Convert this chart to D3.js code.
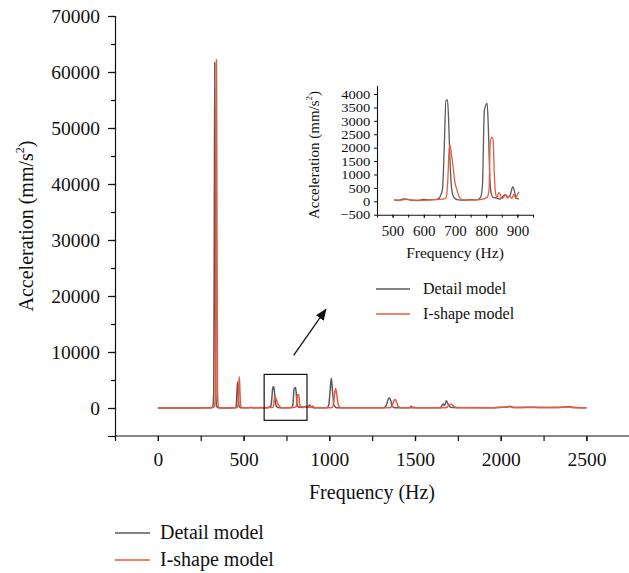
<!DOCTYPE html>
<html><head><meta charset="utf-8">
<script src="https://cdn.jsdelivr.net/npm/d3@7/dist/d3.min.js"></script>
<style>
body{margin:0;background:#fff;}
text{font-family:"Liberation Serif","Times New Roman",serif;fill:#111;}
</style></head>
<body>
<svg id="chart" width="629" height="573"></svg>
<script>
// ---------- DATA ----------
// Main spectrum, low-frequency part (Hz, mm/s^2)
const detailLow = [[0,0],[200,10],[310,40],[321,300],[326,3000],[329,30000],[332,61700],[335,30000],[338,3000],[343,300],[352,60],[400,20],[450,30],[457,400],[461,2500],[465,4700],[469,2500],[473,400],[482,40],[500,30]];
const ishapeLow  = [[0,0],[200,10],[318,40],[331,300],[336,3000],[339,30000],[342,62200],[345,30000],[348,3000],[353,300],[362,60],[400,20],[460,30],[467,400],[471,3000],[475,5600],[479,3000],[483,400],[492,40],[500,30]];
// Zoomed range 505-905 Hz (also shown in the inset)
const detailZoom = [[505,50],[520,40],[535,90],[545,80],[560,40],[580,30],[600,70],[615,50],[630,60],[645,80],[655,250],[660,460],[665,1800],[671,3760],[676,3780],[680,2900],[684,1500],[689,500],[696,150],[710,50],[730,40],[750,60],[770,50],[782,150],[788,600],[794,3380],[803,3650],[807,2700],[811,1100],[815,350],[822,150],[835,120],[845,80],[855,200],[862,250],[870,150],[878,260],[885,550],[890,400],[895,150],[900,100],[905,90]];
const ishapeZoom = [[505,40],[520,30],[535,60],[550,70],[565,40],[590,30],[610,40],[630,60],[650,70],[665,90],[672,150],[677,800],[681,1900],[684,2100],[688,1800],[694,1270],[700,700],[707,400],[713,180],[722,60],[740,40],[760,50],[790,80],[803,150],[809,400],[813,2200],[818,2390],[822,2300],[826,1000],[830,300],[835,150],[840,320],[845,250],[850,100],[856,150],[862,250],[868,120],[875,200],[882,100],[888,250],[895,100],[900,250],[905,350]];
// Main spectrum, high-frequency part
const detailHigh = [[910,60],[985,60],[996,400],[1004,2800],[1012,5300],[1019,3000],[1027,500],[1042,60],[1318,50],[1333,500],[1344,1600],[1352,1800],[1359,1300],[1367,400],[1380,60],[1468,50],[1478,300],[1488,60],[1648,50],[1658,500],[1665,700],[1672,450],[1683,1300],[1691,800],[1700,300],[1712,80],[1950,60],[1990,120],[2030,150],[2056,300],[2070,80],[2120,100],[2180,150],[2230,80],[2300,100],[2360,150],[2396,250],[2420,80],[2500,50]];
const ishapeHigh = [[910,60],[1012,60],[1023,500],[1030,2200],[1037,3500],[1044,2400],[1052,600],[1067,60],[1353,60],[1367,400],[1377,1300],[1385,1500],[1393,1000],[1402,300],[1415,60],[1488,60],[1496,200],[1505,60],[1678,60],[1692,300],[1702,650],[1710,700],[1720,500],[1731,200],[1742,60],[1950,60],[2000,100],[2060,220],[2080,80],[2150,100],[2230,80],[2300,90],[2360,120],[2400,200],[2430,80],[2500,50]];

const xTicksMain = [0,500,1000,1500,2000,2500];
const yTicksMain = [0,10000,20000,30000,40000,50000,60000,70000];
const xTicksInset = [500,600,700,800,900];
const yTicksInset = [-500,0,500,1000,1500,2000,2500,3000,3500,4000];
const seriesNames = ["Detail model","I-shape model"];
const colors = ["#5b5b5b","#ec5a3c"];
const zoomBox = {x0:620, x1:870, y0:-2200, y1:6000};
const arrowFromTo = [[792,9400],[980,17600]];

// ---------- BUILD ----------
const detailMain = detailLow.concat(detailZoom, detailHigh);
const ishapeMain = ishapeLow.concat(ishapeZoom, ishapeHigh);

const svg = d3.select("#chart");
const defs = svg.append("defs");
defs.append("marker").attr("id","ah").attr("viewBox","0 0 10 10").attr("refX",9).attr("refY",5)
  .attr("markerWidth",9).attr("markerHeight",9).attr("orient","auto-start-reverse")
  .append("path").attr("d","M0,1 L10,5 L0,9 Z").attr("fill","#111");

// main scales
const x = d3.scaleLinear().domain([-250,2750]).range([115,629.3]);
const y = d3.scaleLinear().domain([-5000,70000]).range([436,16]);

const fs = 19.5;
// y axis
const gy = svg.append("g").attr("transform","translate(115,0)");
gy.call(d3.axisLeft(y).tickValues(d3.range(-5000,70001,5000)).tickSize(4).tickFormat(""));
gy.call(g=>g.select(".domain").remove());
const gy2 = svg.append("g").attr("transform","translate(115,0)")
  .call(d3.axisLeft(y).tickValues(yTicksMain).tickSize(7).tickPadding(8).tickFormat(d3.format("d")));
[gy,gy2].forEach(g=>{g.selectAll("line").attr("stroke","#111").attr("stroke-width",1.2);});
gy2.select(".domain").attr("stroke","#111").attr("stroke-width",1.2);
gy2.selectAll("text").attr("font-size",fs).attr("dy","0.34em");

// x axis
const gx = svg.append("g").attr("transform","translate(0,436)");
gx.call(d3.axisBottom(x).tickValues(d3.range(-250,2751,250)).tickSize(5).tickFormat(""));
gx.call(g=>g.select(".domain").remove());
const gx2 = svg.append("g").attr("transform","translate(0,436)")
  .call(d3.axisBottom(x).tickValues(xTicksMain).tickSize(5).tickPadding(11).tickFormat(d3.format("d")));
[gx,gx2].forEach(g=>{g.selectAll("line").attr("stroke","#111").attr("stroke-width",1.2);});
gx2.select(".domain").attr("stroke","#111").attr("stroke-width",1.2).attr("d","M115.5,0H629");
gx2.selectAll("text").attr("font-size",fs).attr("dy","0.71em");

// axis titles
svg.append("text").attr("x",372).attr("y",499).attr("text-anchor","middle").attr("font-size",20).text("Frequency (Hz)");
const yl = svg.append("text").attr("transform","translate(33,226) rotate(-90)").attr("text-anchor","middle").attr("font-size",20);
yl.append("tspan").text("Acceleration (mm/s");
yl.append("tspan").attr("font-size",12).attr("dy",-9).text("2");
yl.append("tspan").attr("dy",9).text(")");

// lines
const line = d3.line().x(d=>x(d[0])).y(d=>y(d[1])).curve(d3.curveMonotoneX);
svg.append("path").datum(detailMain).attr("d",line).attr("fill","none").attr("stroke",colors[0]).attr("stroke-width",1.5);
svg.append("path").datum(ishapeMain).attr("d",line).attr("fill","none").attr("stroke",colors[1]).attr("stroke-width",1.5);

// zoom box & arrow
svg.append("rect").attr("x",x(zoomBox.x0)).attr("y",y(zoomBox.y1))
  .attr("width",x(zoomBox.x1)-x(zoomBox.x0)).attr("height",y(zoomBox.y0)-y(zoomBox.y1))
  .attr("fill","none").attr("stroke","#111").attr("stroke-width",1.2);
svg.append("line").attr("x1",x(arrowFromTo[0][0])).attr("y1",y(arrowFromTo[0][1]))
  .attr("x2",x(arrowFromTo[1][0])).attr("y2",y(arrowFromTo[1][1]))
  .attr("stroke","#111").attr("stroke-width",1.3).attr("marker-end","url(#ah)");

// main legend
seriesNames.forEach((n,i)=>{
  const yy = 533 + i*27;
  svg.append("line").attr("x1",115).attr("x2",150).attr("y1",yy).attr("y2",yy).attr("stroke",colors[i]).attr("stroke-width",1.4);
  svg.append("text").attr("x",160).attr("y",yy+6).attr("font-size",20).text(n);
});

// ---------- INSET ----------
const xi = d3.scaleLinear().domain([450,950]).range([377,533]);
const yi = d3.scaleLinear().domain([-500,4300]).range([214.7,86]);
const fsi = 13;
const giy = svg.append("g").attr("transform","translate(377,0)")
  .call(d3.axisLeft(yi).tickValues(yTicksInset).tickSize(3).tickPadding(3).tickFormat(d=>d<0?"\u2212"+Math.abs(d):d));
giy.select(".domain").attr("d","M0.5,86V214.7").attr("stroke","#111").attr("stroke-width",1.1);
giy.selectAll("line").attr("stroke","#111");
giy.selectAll("text").attr("font-size",fsi).attr("dy","0.33em").attr("transform","scale(1.12,1)");
const gix = svg.append("g").attr("transform","translate(0,214.7)");
gix.call(d3.axisBottom(xi).tickValues(d3.range(450,951,50)).tickSize(3).tickFormat(""));
gix.call(g=>g.select(".domain").remove());
gix.selectAll("line").attr("stroke","#111");
const gix2 = svg.append("g").attr("transform","translate(0,214.7)")
  .call(d3.axisBottom(xi).tickValues(xTicksInset).tickSize(3).tickPadding(8).tickFormat(d3.format("d")));
gix2.select(".domain").attr("d","M377,0.5H533").attr("stroke","#111").attr("stroke-width",1.1);
gix2.selectAll("line").attr("stroke","#111");
gix2.selectAll("text").attr("font-size",15).attr("dy","0.71em");

svg.append("text").attr("x",455).attr("y",258).attr("text-anchor","middle").attr("font-size",15.5).text("Frequency (Hz)");
const yli = svg.append("text").attr("transform","translate(319,155) rotate(-90)").attr("text-anchor","middle").attr("font-size",15);
yli.append("tspan").text("Acceleration (mm/s");
yli.append("tspan").attr("font-size",9).attr("dy",-7).text("2");
yli.append("tspan").attr("dy",7).text(")");

const linei = d3.line().x(d=>xi(d[0])).y(d=>yi(d[1])).curve(d3.curveMonotoneX);
svg.append("path").datum(detailZoom).attr("d",linei).attr("fill","none").attr("stroke",colors[0]).attr("stroke-width",1.3);
svg.append("path").datum(ishapeZoom).attr("d",linei).attr("fill","none").attr("stroke",colors[1]).attr("stroke-width",1.3);

seriesNames.forEach((n,i)=>{
  const yy = 289 + i*25;
  svg.append("line").attr("x1",376).attr("x2",410).attr("y1",yy).attr("y2",yy).attr("stroke",colors[i]).attr("stroke-width",1.3);
  svg.append("text").attr("x",423).attr("y",yy+5).attr("font-size",16).text(n);
});
</script>
</body></html>
